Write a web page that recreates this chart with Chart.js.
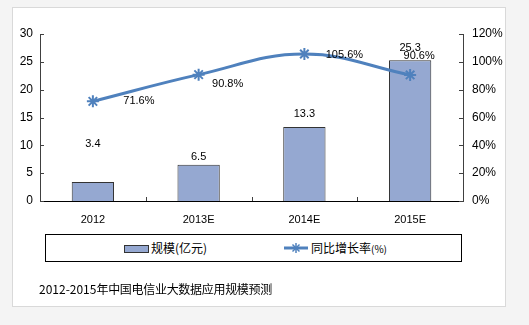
<!DOCTYPE html>
<html>
<head>
<meta charset="utf-8">
<script src="https://cdn.jsdelivr.net/npm/chart.js@4/dist/chart.umd.min.js"></script>
<style>
  html, body { margin: 0; padding: 0; }
  body { width: 529px; height: 325px; background: #f4f4f4; position: relative; overflow: hidden;
         font-family: "Liberation Sans", Arial, "Noto Sans CJK SC", sans-serif; }
  #panel { position: absolute; left: 12px; top: 7px; width: 492px; height: 298px; background: #fff; border: 1px solid #d9d9d9; }
  #wrap { position: absolute; left: 0; top: 0; width: 529px; height: 325px; }
  #legend { position: absolute; left: 45px; top: 234px; width: 415px; height: 26px; border: 1px solid #000; background: #fff; }
  .lg { position: absolute; top: 0; height: 26px; line-height: 26px; font-size: 12px; color: #000; white-space: nowrap;
        font-family: "Noto Sans CJK SC", "Liberation Sans", sans-serif; }
  .sw { position: absolute; top: 10px; left: 78px; width: 23px; height: 6px; background: #95a8d1; border: 1px solid #333; }
  #title { position: absolute; left: 39px; top: 280px; font-size: 12px; color: #000; white-space: nowrap;
           font-family: "Noto Sans CJK SC", "Liberation Sans", sans-serif; }
  #title .cjk { letter-spacing: -0.3px; }
  .small { font-size: 10px; }
</style>
</head>
<body>
<div id="panel"></div>
<div id="wrap"><canvas id="c" width="529" height="325"></canvas></div>
<div id="legend">
  <div class="sw"></div>
  <div class="lg" style="left:105px">规模(亿元)</div>
  <svg style="position:absolute;left:238px;top:6px" width="24" height="14">
    <line x1="0" y1="7" x2="24" y2="7" stroke="#4f81bd" stroke-width="3"/>
    <g stroke="#4f81bd" stroke-width="1.5">
      <line x1="12" y1="2" x2="12" y2="12"/><line x1="7" y1="7" x2="17" y2="7"/>
      <line x1="8.5" y1="3.5" x2="15.5" y2="10.5"/><line x1="15.5" y1="3.5" x2="8.5" y2="10.5"/>
    </g>
  </svg>
  <div class="lg" style="left:265px">同比增长率<span class="small">(%)</span></div>
</div>
<div id="title">2012-2015<span class="cjk">年中国电信业大数据应用规模预测</span></div>
<script>
const categories = ['2012', '2013E', '2014E', '2015E'];
const scaleValues = [3.4, 6.5, 13.3, 25.3];
const growthRates = [71.6, 90.8, 105.6, 90.6];
const leftTicks = [0, 5, 10, 15, 20, 25, 30];
const rightTicks = [0, 20, 40, 60, 80, 100, 120];

// label placement offsets (px) relative to the mark
const barLabelLift = [38, 8, 13, 12];
const lineLabelShift = [[46, 0], [29, 9], [40, 1], [9, -19]];

const labelPlugin = {
  id: 'labels',
  afterDatasetsDraw(chart) {
    const ctx = chart.ctx;
    ctx.save();
    ctx.font = '11px "Liberation Sans", Arial, sans-serif';
    ctx.fillStyle = '#000';
    ctx.textAlign = 'center';
    ctx.textBaseline = 'middle';
    chart.getDatasetMeta(0).data.forEach((bar, i) => {
      ctx.fillText(scaleValues[i].toFixed(1), bar.x, bar.y - barLabelLift[i]);
    });
    chart.getDatasetMeta(1).data.forEach((pt, i) => {
      ctx.fillText(growthRates[i].toFixed(1) + '%', pt.x + lineLabelShift[i][0], pt.y + lineLabelShift[i][1]);
    });
    ctx.restore();
  },
  afterDraw(chart) {
    // inward tick marks
    const ctx = chart.ctx, a = chart.chartArea;
    const y = chart.scales.y, y1 = chart.scales.y1, x = chart.scales.x;
    ctx.save();
    ctx.strokeStyle = '#404040';
    ctx.lineWidth = 1;
    ctx.beginPath();
    leftTicks.forEach(v => { const py = Math.round(y.getPixelForValue(v)) + 0.5; ctx.moveTo(a.left, py); ctx.lineTo(a.left + 4, py); });
    rightTicks.forEach(v => { const py = Math.round(y1.getPixelForValue(v)) + 0.5; ctx.moveTo(a.right, py); ctx.lineTo(a.right - 4, py); });
    for (let i = 1; i < categories.length; i++) {
      const px = Math.round((x.getPixelForValue(i - 1) + x.getPixelForValue(i)) / 2) + 0.5;
      ctx.moveTo(px, a.bottom); ctx.lineTo(px, a.bottom - 4);
    }
    ctx.stroke();
    ctx.restore();
  }
};

new Chart(document.getElementById('c'), {
  data: {
    labels: categories,
    datasets: [
      {
        type: 'bar', label: '规模(亿元)', data: scaleValues, yAxisID: 'y',
        backgroundColor: '#95a8d1', borderColor: '#333', borderWidth: 1,
        barPercentage: 0.8, categoryPercentage: 0.5, order: 2
      },
      {
        type: 'line', label: '同比增长率(%)', data: growthRates, yAxisID: 'y1',
        borderColor: '#4f81bd', borderWidth: 3, tension: 0.4, cubicInterpolationMode: 'default',
        pointStyle: 'star', pointRadius: 6, pointBorderWidth: 2,
        pointBorderColor: '#4f81bd', pointBackgroundColor: '#4f81bd', order: 1
      }
    ]
  },
  options: {
    responsive: false, animation: false,
    layout: { padding: { top: 34, left: 0, right: 0, bottom: 0 } },
    plugins: { legend: { display: false }, tooltip: { enabled: false } },
    scales: {
      x: {
        grid: { display: false, drawTicks: false },
        border: { display: true, color: '#000', width: 1 },
        ticks: { color: '#000', font: { size: 11, family: '"Liberation Sans", Arial, sans-serif' }, padding: 12, maxRotation: 0 },
        afterFit(s) { s.height = 124; }
      },
      y: {
        position: 'left', min: 0, max: 30,
        grid: { display: false, drawTicks: false },
        border: { display: true, color: '#404040', width: 1 },
        ticks: { stepSize: 5, color: '#000', padding: 7, font: { size: 12, family: '"Liberation Sans", Arial, sans-serif' } },
        afterBuildTicks(s) { s.ticks = leftTicks.map(v => ({ value: v })); },
        afterFit(s) { s.width = 40; }
      },
      y1: {
        position: 'right', min: 0, max: 120,
        grid: { display: false, drawTicks: false },
        border: { display: true, color: '#404040', width: 1 },
        ticks: { stepSize: 20, color: '#000', padding: 9, font: { size: 12, family: '"Liberation Sans", Arial, sans-serif' },
                 callback: v => v + '%' },
        afterBuildTicks(s) { s.ticks = rightTicks.map(v => ({ value: v })); },
        afterFit(s) { s.width = 66; }
      }
    }
  },
  plugins: [labelPlugin]
});
</script>
</body>
</html>
